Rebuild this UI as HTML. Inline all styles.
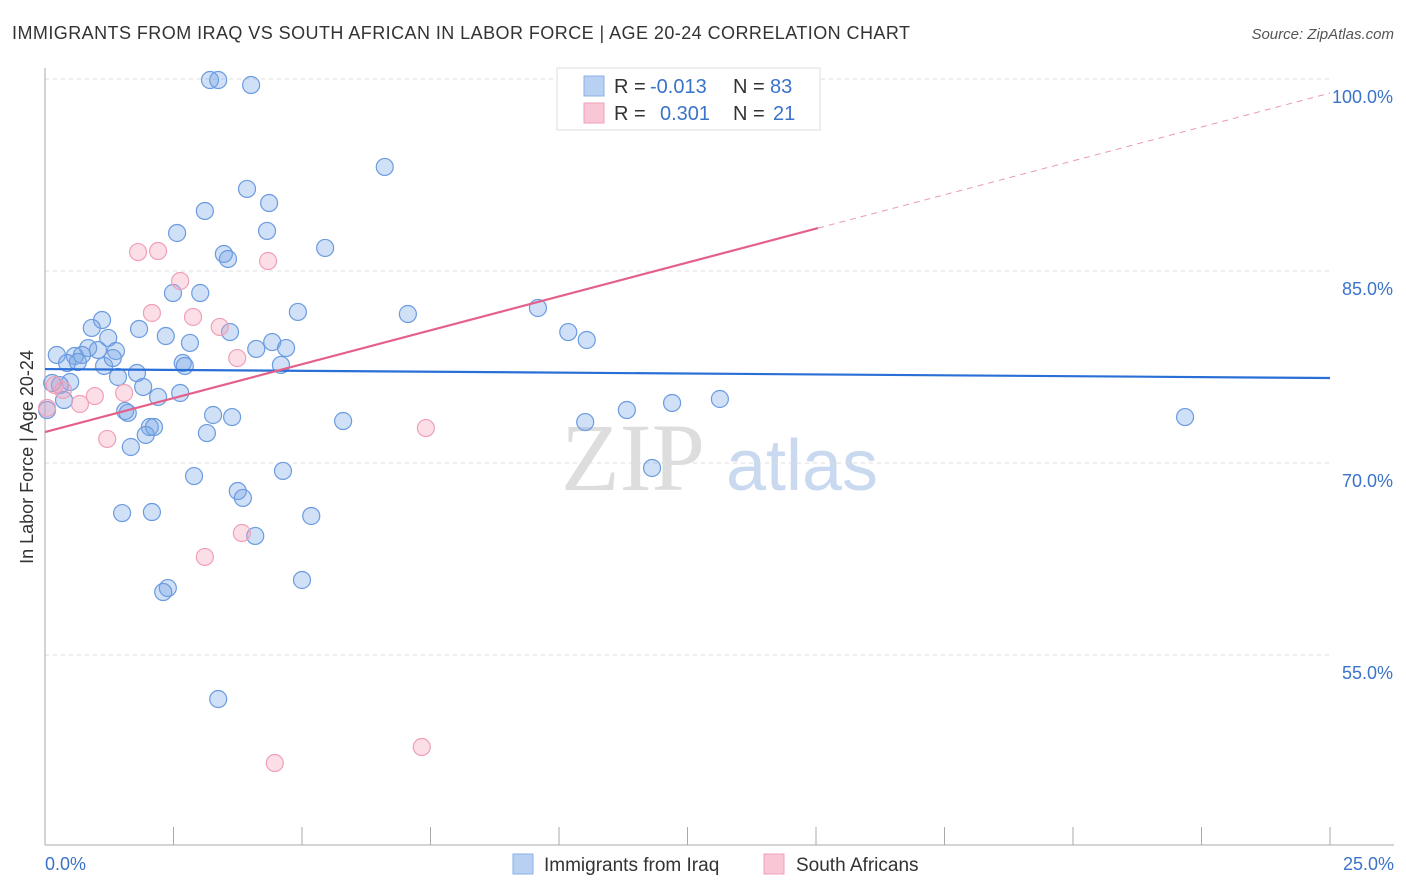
<!DOCTYPE html>
<html><head><meta charset="utf-8"><style>
body{margin:0;background:#fff;font-family:"Liberation Sans",sans-serif}
svg{display:block}
</style></head><body>
<svg id="chart" width="1406" height="892" xmlns="http://www.w3.org/2000/svg">
<text x="12" y="39" font-size="18" fill="#333" textLength="898" lengthAdjust="spacing">IMMIGRANTS FROM IRAQ VS SOUTH AFRICAN IN LABOR FORCE | AGE 20-24 CORRELATION CHART</text>
<text x="1394" y="39" font-size="15" fill="#555" text-anchor="end" font-style="italic">Source: ZipAtlas.com</text>
<text transform="translate(33,457) rotate(-90)" font-size="18" fill="#333" text-anchor="middle">In Labor Force | Age 20-24</text>
<g><text x="633" y="490" font-size="96" fill="#ddd" font-family="Liberation Serif,serif" text-anchor="middle">ZIP</text><text x="802" y="490" font-size="72" fill="#c9d9ef" text-anchor="middle">atlas</text></g>
<g id="grid"></g><g id="marks"></g>
<g>
<rect x="557" y="68" width="263" height="62" fill="#fff" stroke="#ddd"/>
<rect x="584" y="76" width="20" height="20" fill="#b8d1f3" stroke="#8ab0e8"/>
<rect x="584" y="103" width="20" height="20" fill="#f9c6d6" stroke="#f0a0b8"/>
<text x="614" y="93" font-size="20" fill="#333">R =</text>
<text x="650" y="93" font-size="20" fill="#3a73c9">-0.013</text>
<text x="733" y="93" font-size="20" fill="#333">N =</text>
<text x="770" y="93" font-size="20" fill="#3a73c9">83</text>
<text x="614" y="120" font-size="20" fill="#333">R =</text>
<text x="660" y="120" font-size="20" fill="#3a73c9">0.301</text>
<text x="733" y="120" font-size="20" fill="#333">N =</text>
<text x="773" y="120" font-size="20" fill="#3a73c9">21</text>
</g>
<g>
<rect x="513" y="854" width="20" height="20" fill="#b8d1f3" stroke="#8ab0e8"/>
<text x="544" y="871" font-size="19" fill="#333">Immigrants from Iraq</text>
<rect x="764" y="854" width="20" height="20" fill="#f9c6d6" stroke="#f0a0b8"/>
<text x="796" y="871" font-size="19" fill="#333">South Africans</text>
</g>
</svg>
<script>
const iraqX=[3.21,3.37,4.01,6.61,3.93,4.36,3.11,2.57,4.32,3.48,3.56,5.45,2.49,3.02,4.92,7.06,9.59,1.11,0.91,1.83,2.35,1.23,3.60,10.18,10.54,0.23,0.84,1.38,0.58,0.72,1.03,2.82,4.42,4.69,4.11,0.43,0.64,1.15,1.32,2.68,2.72,4.59,1.79,1.42,0.14,0.49,0.29,1.91,2.63,2.20,0.37,0.04,1.56,1.61,3.27,3.64,5.80,10.51,11.32,12.20,13.13,22.18,2.04,2.12,1.96,3.15,1.67,4.63,2.90,11.81,3.75,3.85,1.50,2.08,5.18,4.09,5.00,2.39,2.30,3.37];
const iraqY=[99.92,99.92,99.53,93.13,91.41,90.31,89.69,87.97,88.13,86.33,85.94,86.80,83.28,83.28,81.80,81.64,82.11,81.17,80.55,80.47,79.92,79.77,80.23,80.23,79.61,78.44,78.98,78.75,78.36,78.44,78.83,79.38,79.45,78.98,78.91,77.81,77.89,77.58,78.20,77.81,77.58,77.66,77.03,76.72,76.25,76.33,76.09,75.94,75.47,75.16,74.92,74.14,74.06,73.91,73.75,73.59,73.28,73.20,74.14,74.69,75.00,73.59,72.81,72.81,72.19,72.34,71.25,69.38,68.98,69.61,67.81,67.27,66.09,66.17,65.86,64.30,60.86,60.23,59.92,51.56];
const saX=[14.88,1.81,2.20,4.34,2.63,2.08,2.88,3.40,3.74,0.19,0.35,1.54,0.97,0.68,0.04,1.21,7.41,3.83,3.11,4.47,7.33];
const saY=[99.92,86.48,86.56,85.78,84.22,81.72,81.41,80.63,78.20,76.09,75.70,75.47,75.23,74.61,74.30,71.88,72.73,64.53,62.66,46.56,47.81];
const yTicks=[100,85,70,55];
const yTickLabels=["100.0%","85.0%","70.0%","55.0%"];
const xTicks=[0,2.5,5,7.5,10,12.5,15,17.5,20,22.5,25];
const iraqTrend=[77.34,76.64];
const saTrend=[72.42,98.9];
const saSolidEnd=15.04;
const NS="http://www.w3.org/2000/svg";
const sx=v=>45+v/25*1285, sy=v=>79+(100-v)*12.8;
function mk(t,a,p){const e=document.createElementNS(NS,t);for(const k in a)e.setAttribute(k,a[k]);p.appendChild(e);return e;}
const grid=document.getElementById('grid'),marks=document.getElementById('marks');
yTicks.forEach((v,i)=>{
 const l=mk('line',{x1:45,x2:1330,y1:sy(v),y2:sy(v),stroke:'#ddd','stroke-dasharray':'4,4'},grid);
 
 
 const t=mk('text',{x:1393,y:sy(v)+24,'font-size':18,fill:'#3a73c9','text-anchor':'end'},grid);t.textContent=yTickLabels[i];
 
 
});
const ax=mk('line',{x1:45,x2:45,y1:68,y2:845,stroke:'#aaa'},grid);


const bx=mk('line',{x1:45,x2:1394,y1:845,y2:845,stroke:'#aaa'},grid);


xTicks.forEach(v=>{const l=mk('line',{x1:sx(v),x2:sx(v),y1:827,y2:845,stroke:'#aaa'},grid);
 
 });
const x0=mk('text',{x:45,y:870,'font-size':18,fill:'#3a73c9'},grid);x0.textContent='0.0%';


const x1=mk('text',{x:1394,y:870,'font-size':18,fill:'#3a73c9','text-anchor':'end'},grid);x1.textContent='25.0%';


iraqX.forEach((x,i)=>{const c=mk('circle',{cx:sx(x),cy:sy(iraqY[i]),r:8.5,fill:'rgba(120,165,230,0.35)',stroke:'#6b9be0','stroke-width':1.2},marks);
 
 });
saX.forEach((x,i)=>{const c=mk('circle',{cx:sx(x),cy:sy(saY[i]),r:8.5,fill:'rgba(245,160,185,0.35)',stroke:'#f0a0b8','stroke-width':1.2},marks);
 
 });
const tl=mk('line',{x1:sx(0),x2:sx(25),y1:sy(iraqTrend[0]),y2:sy(iraqTrend[1]),stroke:'#2a6fd6','stroke-width':2.2},marks);


const slope=(saTrend[1]-saTrend[0])/25, ym=saTrend[0]+slope*saSolidEnd;
const pl=mk('line',{x1:sx(0),x2:sx(saSolidEnd),y1:sy(saTrend[0]),y2:sy(ym),stroke:'#e4608a','stroke-width':2.2},marks);


const pd=mk('line',{x1:sx(saSolidEnd),x2:sx(25),y1:sy(ym),y2:sy(saTrend[1]),stroke:'#e89ab0','stroke-width':1,'stroke-dasharray':'6,5'},marks);


</script>
</body></html>
